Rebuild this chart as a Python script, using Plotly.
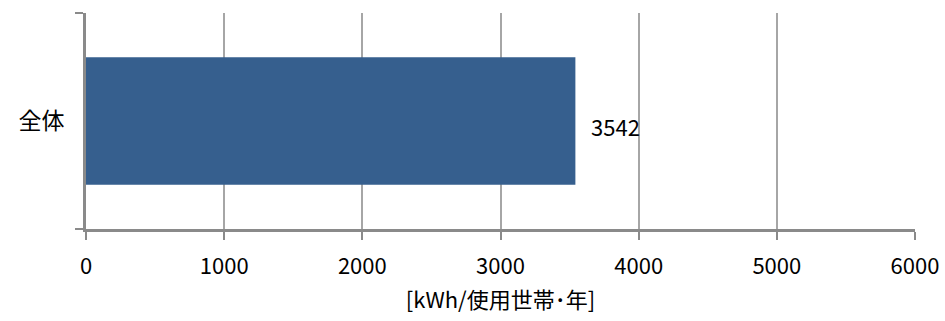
import plotly.graph_objects as go

categories = ["全体"]
values = [3542]
x_ticks = [0, 1000, 2000, 3000, 4000, 5000, 6000]
x_title = "[kWh/使用世帯･年]"

font = "Noto Sans CJK JP, Noto Sans, sans-serif"

fig = go.Figure()
fig.add_trace(go.Bar(
    y=categories, x=values, orientation="h",
    marker=dict(color="#365f8e", line=dict(width=0)),
))
# value label, a little right of the bar end
for c, v in zip(categories, values):
    fig.add_annotation(x=v, y=c, text=str(v), showarrow=False,
                       xanchor="left", xshift=14, yshift=-5,
                       font=dict(size=22, color="#000000", family=font))

fig.update_layout(
    width=945, height=321,
    margin=dict(l=86, r=30, t=13, b=92),
    paper_bgcolor="white", plot_bgcolor="white",
    font=dict(family=font, color="#000000", size=22),
    bargap=0.41,
    showlegend=False,
)
fig.update_xaxes(
    range=[0, 6000], tickvals=x_ticks, automargin=False,
    showgrid=True, gridcolor="#a6a6a6", gridwidth=2,
    showline=True, linecolor="#8a8a8a", linewidth=3,
    ticks="outside", ticklen=8, tickcolor="#8a8a8a", tickwidth=2,
    tickfont=dict(size=22), zeroline=False, ticklabelstandoff=8,
    title=dict(text=x_title, font=dict(size=22), standoff=14),
)
fig.update_yaxes(
    showline=True, linecolor="#8a8a8a", linewidth=3, automargin=False,
    ticks="outside", tickson="boundaries", ticklen=8,
    tickcolor="#8a8a8a", tickwidth=2,
    tickfont=dict(size=23), ticklabelstandoff=14,
    showgrid=False,
)

fig.write_html("out.html", config={"displayModeBar": False},
               post_script="document.body.style.margin='0';document.body.style.overflow='hidden';")
